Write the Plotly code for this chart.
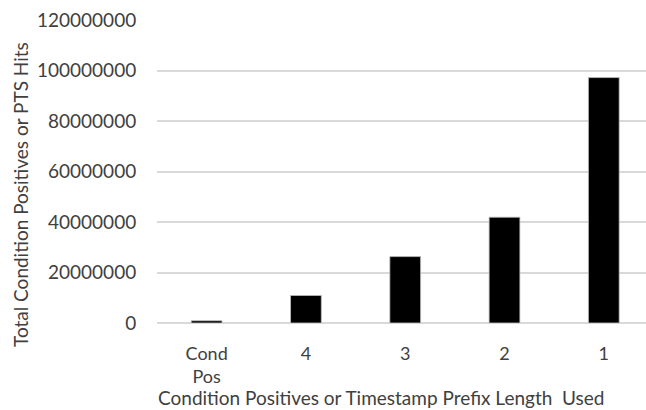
import plotly.graph_objects as go

categories = ["Cond<br>Pos", "4", "3", "2", "1"]
values = [900000, 10900000, 26300000, 41900000, 97200000]
y_ticks = [0, 20000000, 40000000, 60000000, 80000000, 100000000, 120000000]
y_title = "Total Condition Positives or PTS Hits"
x_title = "Condition Positives or Timestamp Prefix Length  Used"

FONT = "Lato"
GRAY = "#404040"

fig = go.Figure(go.Bar(
    x=categories, y=values,
    marker=dict(color="black", line=dict(color="#bfbfbf", width=0.8)),
    width=0.31,
))

fig.update_layout(
    width=646, height=410,
    margin=dict(l=157, r=0, t=20, b=87),
    plot_bgcolor="white", paper_bgcolor="white",
    showlegend=False,
    font=dict(family=FONT, size=18, color=GRAY),
    xaxis=dict(
        range=[-0.5, 4.425],
        showgrid=False, zeroline=False, showline=False,
        ticks="outside", ticklen=14, tickcolor="rgba(0,0,0,0)",
        tickfont=dict(family=FONT, size=18, color=GRAY),
        automargin=False,
    ),
    yaxis=dict(
        range=[0, 120000000],
        tickvals=y_ticks,
        ticktext=[str(v) for v in y_ticks],
        showgrid=True, gridcolor="#d9d9d9", gridwidth=1.5,
        zeroline=True, zerolinecolor="#d9d9d9", zerolinewidth=1.5,
        showline=False,
        ticks="outside", ticklen=16, tickcolor="rgba(0,0,0,0)",
        tickfont=dict(family=FONT, size=19, color=GRAY),
        automargin=False,
    ),
    annotations=[
        dict(text=y_title, textangle=-90, xref="paper", yref="paper",
             x=(20 - 157) / 489, y=(323 - 195) / 303, showarrow=False,
             xanchor="center", yanchor="middle",
             font=dict(family=FONT, size=19, color=GRAY)),
        dict(text=x_title, xref="paper", yref="paper",
             x=(381 - 157) / 489, y=(323 - 397) / 303, showarrow=False,
             xanchor="center", yanchor="middle",
             font=dict(family=FONT, size=19, color=GRAY)),
    ],
)

fig.write_html(
    "out.html",
    config={"displayModeBar": False},
    post_script="document.body.style.margin='0';document.body.style.padding='0';",
)
